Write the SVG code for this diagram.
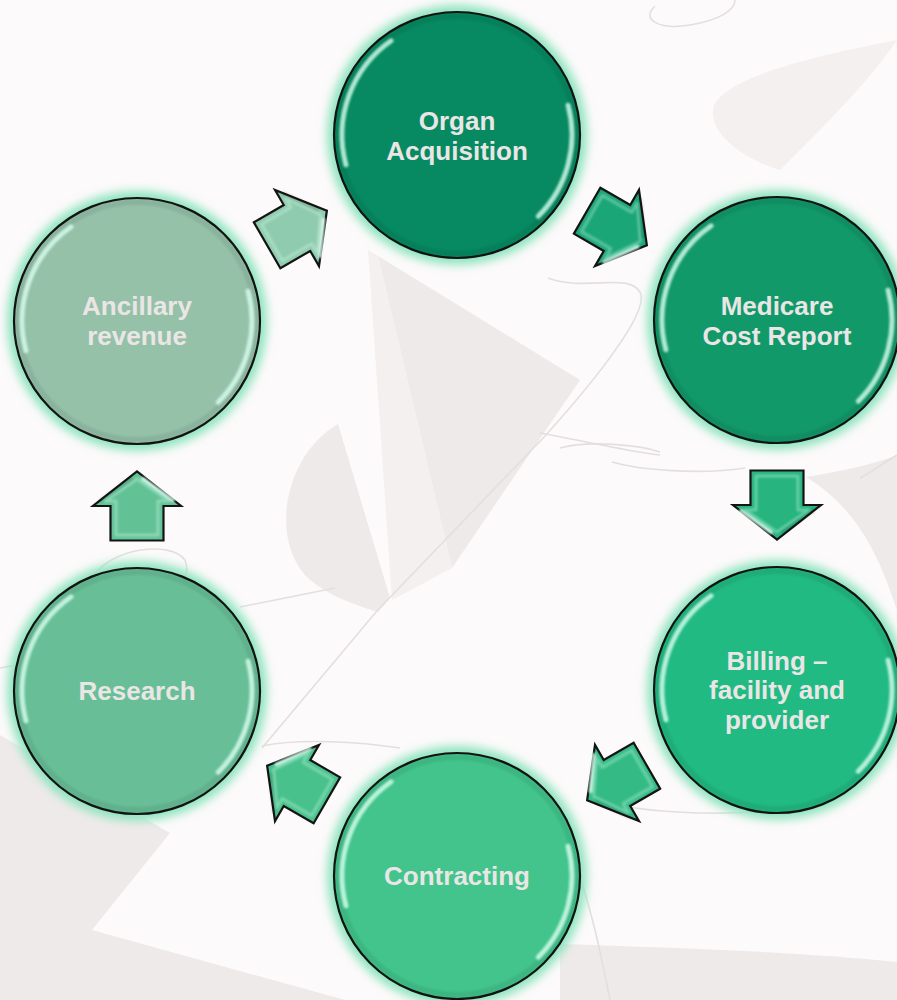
<svg xmlns="http://www.w3.org/2000/svg" xmlns:xlink="http://www.w3.org/1999/xlink" width="897" height="1000" viewBox="0 0 897 1000">
  <defs>
    <style>
      .bg { fill: #fcfafa; }
      .shade { fill: #eeeae9; }
      .shade2 { fill: #f3f0ef; }
      .wire { fill: none; stroke: #e3dfde; stroke-width: 1.6; }
      .glow { fill: #8fe4bf; filter: url(#soft); }
      .disc { stroke: #141414; stroke-width: 2.2; }
      .rim { fill: none; stroke: #000; stroke-width: 6; opacity: 0.07; filter: url(#tiny); }
      .shine { fill: none; stroke: #d9fff0; stroke-width: 5; stroke-linecap: round; opacity: 0.8; filter: url(#tiny); }
      .label { font-family: "Liberation Sans", Arial, sans-serif; font-weight: bold; font-size: 26px; fill: #ebe6e6; text-anchor: middle; }
      .arrow { stroke: #141414; stroke-width: 2.2; stroke-linejoin: miter; }
      .inset { fill: none; stroke: #dafff0; stroke-width: 3; stroke-linejoin: round; opacity: 0.35; filter: url(#tiny); }
      .bevel { fill: none; stroke: #e2fff3; stroke-width: 4; stroke-linecap: round; opacity: 0.8; filter: url(#tiny); }
      .bevel-dark { fill: none; stroke: #000; stroke-width: 4; stroke-linecap: round; opacity: 0.12; filter: url(#tiny); }
    </style>
    <filter id="soft" x="-30%" y="-30%" width="160%" height="160%">
      <feGaussianBlur stdDeviation="5"/>
    </filter>
    <filter id="tiny" x="-30%" y="-30%" width="160%" height="160%">
      <feGaussianBlur stdDeviation="1.3"/>
    </filter>
    <!-- glossy edge reflections of a disc, in disc-local coordinates -->
    <path id="shineL" d="M -111.1 29.8 A 115 115 0 0 1 -66 -94.2"/>
    <path id="shineR" d="M 111.1 -29.8 A 115 115 0 0 1 81.3 81.3"/>
    <!-- block arrow pointing along +x, centred on the head base -->
    <path id="arrowShape" d="M -34.5 -26.5 L 0 -26.5 L 0 -44 L 34.5 0 L 0 44 L 0 26.5 L -34.5 26.5 Z"/>
    <path id="arrowInset" d="M -29 -21 L 5 -21 L 5 -32 L 27 0 L 5 32 L 5 21 L -29 21 Z"/>
  </defs>

  <!-- backdrop -->
  <rect class="bg" x="0" y="0" width="897" height="1000"/>
  <g id="backdrop">
    <path class="shade2" d="M 897 40 C 820 55 730 75 714 105 C 705 135 750 162 780 170 C 830 120 870 80 897 40 Z"/>
    <path class="shade" d="M 378 256 L 580 380 L 452 568 Z"/>
    <path class="shade2" d="M 368 250 L 392 600 L 452 568 L 378 256 Z"/>
    <path class="shade" d="M 338 424 C 285 455 270 535 305 575 C 325 595 355 605 378 612 L 390 598 Z"/>
    <path class="shade" d="M 806 477 C 850 470 880 462 897 455 L 897 610 C 880 560 860 510 806 477 Z"/>
    <path class="shade" d="M 0 735 L 170 833 L 92 930 L 345 1000 L 0 1000 Z"/>
    <path class="shade" d="M 560 944 C 680 948 800 952 897 962 L 897 1000 L 560 1000 Z"/>
    <path class="wire" d="M 262 748 L 376 612 L 545 436 C 600 375 650 310 640 292 C 628 272 585 292 548 278"/>
    <path class="wire" d="M 240 607 L 335 588"/>
    <path class="wire" d="M 540 433 C 580 440 620 450 660 455"/>
    <path class="wire" d="M 560 448 C 590 440 640 445 660 452 M 612 462 C 640 470 700 475 745 468"/>
    <path class="wire" d="M 92 578 C 110 548 170 540 185 560 C 192 578 178 588 160 592"/>
    <path class="wire" d="M 0 668 C 20 665 40 660 60 655"/>
    <path class="wire" d="M 262 746 C 300 738 360 742 400 748 M 595 800 C 640 812 700 815 760 812"/>
    <path class="wire" d="M 860 478 C 875 470 885 462 897 455"/>
    <path class="wire" d="M 655 6 C 640 20 660 30 690 25 C 720 20 735 10 735 0"/>
    <path class="wire" d="M 570 850 C 590 900 600 950 610 1000"/>
  </g>

  <!-- connectors -->
  <g id="connectors">
    <g id="arrow-ancillary-organ" transform="translate(297 228) rotate(-30)">
      <use href="#arrowShape" class="arrow" fill="#8fcbae"/>
      <use href="#arrowInset" class="inset"/>
      <path class="bevel" d="M -29 -20 L -29 20"/>
      <path class="bevel" d="M 6 36 L 27 6"/>
      <path class="bevel-dark" d="M 6 -36 L 27 -6"/>
    </g>
    <g id="arrow-organ-medicare" transform="translate(617 228) rotate(30)">
      <use href="#arrowShape" class="arrow" fill="#1ba677"/>
      <use href="#arrowInset" class="inset"/>
      <path class="bevel" d="M -29 -20 L -29 20"/>
      <path class="bevel" d="M 6 36 L 27 6"/>
      <path class="bevel-dark" d="M 6 -36 L 27 -6"/>
    </g>
    <g id="arrow-medicare-billing" transform="translate(777 505) rotate(90)">
      <use href="#arrowShape" class="arrow" fill="#27b47f"/>
      <use href="#arrowInset" class="inset"/>
      <path class="bevel" d="M -29 -20 L -29 20"/>
      <path class="bevel" d="M 6 36 L 27 6"/>
      <path class="bevel-dark" d="M 6 -36 L 27 -6"/>
    </g>
    <g id="arrow-billing-contracting" transform="translate(617 783) rotate(150)">
      <use href="#arrowShape" class="arrow" fill="#34bb85"/>
      <use href="#arrowInset" class="inset"/>
      <path class="bevel" d="M -29 -20 L -29 20"/>
      <path class="bevel" d="M 6 36 L 27 6"/>
      <path class="bevel-dark" d="M 6 -36 L 27 -6"/>
    </g>
    <g id="arrow-contracting-research" transform="translate(297 783) rotate(210)">
      <use href="#arrowShape" class="arrow" fill="#48c18c"/>
      <use href="#arrowInset" class="inset"/>
      <path class="bevel" d="M -29 -20 L -29 20"/>
      <path class="bevel" d="M 6 36 L 27 6"/>
      <path class="bevel-dark" d="M 6 -36 L 27 -6"/>
    </g>
    <g id="arrow-research-ancillary" transform="translate(137 506) rotate(-90)">
      <use href="#arrowShape" class="arrow" fill="#62c296"/>
      <use href="#arrowInset" class="inset"/>
      <path class="bevel" d="M -29 -20 L -29 20"/>
      <path class="bevel" d="M 6 36 L 27 6"/>
      <path class="bevel-dark" d="M 6 -36 L 27 -6"/>
    </g>
  </g>

  <!-- nodes -->
  <g id="node-organ-acquisition" transform="translate(457 135)">
    <circle class="glow" r="130"/>
    <circle class="disc" r="123" fill="#078a61"/>
    <circle class="rim" r="119"/>
    <use href="#shineL" class="shine"/>
    <use href="#shineR" class="shine"/>
    <text class="label" x="0" y="-5">Organ</text>
    <text class="label" x="0" y="25">Acquisition</text>
  </g>
  <g id="node-medicare-cost-report" transform="translate(777 320)">
    <circle class="glow" r="130"/>
    <circle class="disc" r="123" fill="#12996a"/>
    <circle class="rim" r="119"/>
    <use href="#shineL" class="shine"/>
    <use href="#shineR" class="shine"/>
    <text class="label" x="0" y="-5">Medicare</text>
    <text class="label" x="0" y="25">Cost Report</text>
  </g>
  <g id="node-billing" transform="translate(777 690)">
    <circle class="glow" r="130"/>
    <circle class="disc" r="123" fill="#22ba83"/>
    <circle class="rim" r="119"/>
    <use href="#shineL" class="shine"/>
    <use href="#shineR" class="shine"/>
    <text class="label" x="0" y="-20">Billing –</text>
    <text class="label" x="0" y="9">facility and</text>
    <text class="label" x="0" y="39">provider</text>
  </g>
  <g id="node-contracting" transform="translate(457 876)">
    <circle class="glow" r="130"/>
    <circle class="disc" r="123" fill="#42c48c"/>
    <circle class="rim" r="119"/>
    <use href="#shineL" class="shine"/>
    <use href="#shineR" class="shine"/>
    <text class="label" x="0" y="9">Contracting</text>
  </g>
  <g id="node-research" transform="translate(137 691)">
    <circle class="glow" r="130"/>
    <circle class="disc" r="123" fill="#68bf97"/>
    <circle class="rim" r="119"/>
    <use href="#shineL" class="shine"/>
    <use href="#shineR" class="shine"/>
    <text class="label" x="0" y="9">Research</text>
  </g>
  <g id="node-ancillary-revenue" transform="translate(137 321)">
    <circle class="glow" r="130"/>
    <circle class="disc" r="123" fill="#95c1a9"/>
    <circle class="rim" r="119"/>
    <use href="#shineL" class="shine"/>
    <use href="#shineR" class="shine"/>
    <text class="label" x="0" y="-6">Ancillary</text>
    <text class="label" x="0" y="24">revenue</text>
  </g>
</svg>
